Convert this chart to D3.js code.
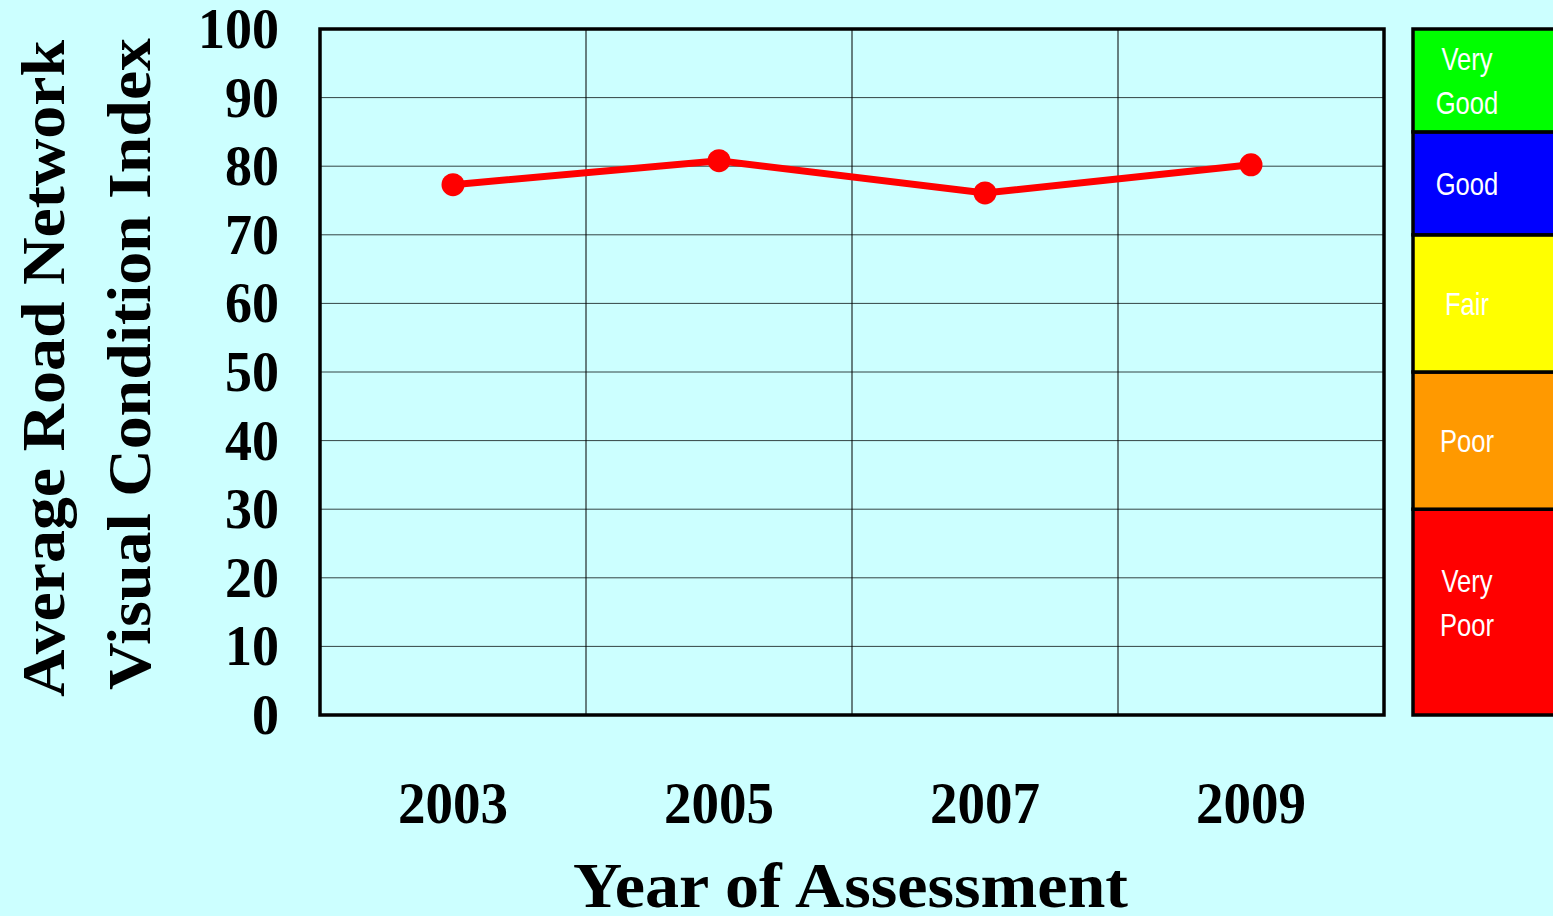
<!DOCTYPE html>
<html>
<head>
<meta charset="utf-8">
<script src="https://cdn.jsdelivr.net/npm/d3@7"></script>
<style>
  body { margin: 0; background: #ccffff; }
  svg { display: block; }
</style>
</head>
<body>
<div id="chart"></div>
<script>
const years = ["2003", "2005", "2007", "2009"];
const vci = [77.3, 80.8, 76.1, 80.2];
const yTicks = [0, 10, 20, 30, 40, 50, 60, 70, 80, 90, 100];
const classNames = [["Very", "Poor"], ["Poor"], ["Fair"], ["Good"], ["Very", "Good"]];
const classBounds = [0, 30, 50, 70, 85, 100];
const classColors = ["#ff0000", "#ff9900", "#ffff00", "#0000ff", "#00ff00"];

const width = 1553, height = 916;
const margin = { left: 320, right: 169, top: 29, bottom: 201 };
const plotW = width - margin.left - margin.right;
const plotH = height - margin.top - margin.bottom;

const svg = d3.select("#chart").append("svg")
    .attr("width", width)
    .attr("height", height);

svg.append("rect")
    .attr("width", width)
    .attr("height", height)
    .attr("fill", "#ccffff");

const x = d3.scaleBand().domain(years).range([margin.left, margin.left + plotW]);
const y = d3.scaleLinear().domain([0, 100]).range([margin.top + plotH, margin.top]);

const serif = "'Liberation Serif', 'Times New Roman', serif";

// horizontal grid
svg.append("g")
    .selectAll("line")
    .data(yTicks.slice(1, -1))
    .enter()
    .append("line")
    .attr("x1", margin.left)
    .attr("x2", margin.left + plotW)
    .attr("y1", d => y(d))
    .attr("y2", d => y(d))
    .attr("stroke", "#334444")
    .attr("stroke-width", 1);

// vertical grid at band edges
svg.append("g")
    .selectAll("line")
    .data(years.slice(1))
    .enter()
    .append("line")
    .attr("x1", d => x(d))
    .attr("x2", d => x(d))
    .attr("y1", margin.top)
    .attr("y2", margin.top + plotH)
    .attr("stroke", "#000")
    .attr("stroke-width", 1);

// plot border
svg.append("rect")
    .attr("x", margin.left)
    .attr("y", margin.top)
    .attr("width", plotW)
    .attr("height", plotH)
    .attr("fill", "none")
    .attr("stroke", "#000")
    .attr("stroke-width", 3.5);

// y tick labels
svg.append("g")
    .selectAll("text")
    .data(yTicks)
    .enter()
    .append("text")
    .attr("x", 279)
    .attr("y", d => y(d))
    .attr("dy", "0.34em")
    .attr("text-anchor", "end")
    .attr("font-family", serif)
    .attr("font-weight", "bold")
    .attr("font-size", 56)
    .attr("textLength", d => String(d).length * 27)
    .attr("lengthAdjust", "spacingAndGlyphs")
    .text(d => d);

// x tick labels
svg.append("g")
    .selectAll("text")
    .data(years)
    .enter()
    .append("text")
    .attr("x", d => x(d) + x.bandwidth() / 2 - 110 / 2)
    .attr("y", 823)
    .attr("font-family", serif)
    .attr("font-weight", "bold")
    .attr("font-size", 60)
    .attr("textLength", 110)
    .attr("lengthAdjust", "spacingAndGlyphs")
    .text(d => d);

// axis titles
svg.append("text")
    .attr("x", 573)
    .attr("y", 907)
    .attr("font-family", serif)
    .attr("font-weight", "bold")
    .attr("font-size", 64)
    .attr("textLength", 555)
    .attr("lengthAdjust", "spacingAndGlyphs")
    .text("Year of Assessment");

const yTitle = ["Average Road Network", "Visual Condition Index"];
const yTitleX = [64, 150];
const yTitleLen = [657, 652];
svg.append("g")
    .selectAll("text")
    .data(yTitle)
    .enter()
    .append("text")
    .attr("transform", (d, i) => `translate(${yTitleX[i]},${i === 0 ? 697 : 690}) rotate(-90)`)
    .attr("font-family", serif)
    .attr("font-weight", "bold")
    .attr("font-size", 62)
    .attr("textLength", (d, i) => yTitleLen[i])
    .attr("lengthAdjust", "spacingAndGlyphs")
    .text(d => d);

// line + markers
const pts = years.map((yr, i) => ({ year: yr, v: vci[i] }));
const line = d3.line()
    .x(d => x(d.year) + x.bandwidth() / 2)
    .y(d => y(d.v));

svg.append("path")
    .datum(pts)
    .attr("d", line)
    .attr("fill", "none")
    .attr("stroke", "#ff0000")
    .attr("stroke-width", 7);

svg.append("g")
    .selectAll("circle")
    .data(pts)
    .enter()
    .append("circle")
    .attr("cx", d => x(d.year) + x.bandwidth() / 2)
    .attr("cy", d => y(d.v))
    .attr("r", 11.5)
    .attr("fill", "#ff0000");

// condition class legend, aligned with y scale
const legX = 1413, legW = 150;
const bands = classColors.map((c, i) => ({
    color: c, lo: classBounds[i], hi: classBounds[i + 1], names: classNames[i]
}));

const leg = svg.append("g");
leg.selectAll("rect")
    .data(bands)
    .enter()
    .append("rect")
    .attr("x", legX)
    .attr("y", d => y(d.hi))
    .attr("width", legW)
    .attr("height", d => y(d.lo) - y(d.hi))
    .attr("fill", d => d.color)
    .attr("stroke", "#000")
    .attr("stroke-width", 3.5);

// narrow sans: squeeze horizontally
leg.selectAll("text")
    .data(bands)
    .enter()
    .append("text")
    .attr("transform", `translate(${legX + 54},0) scale(0.8,1)`)
    .attr("font-family", "'Liberation Sans', Arial, sans-serif")
    .attr("font-size", 32)
    .attr("fill", "#fff")
    .attr("text-anchor", "middle")
    .each(function (d) {
        const mid = (y(d.lo) + y(d.hi)) / 2 - (d.lo === 0 ? 10 : 0);
        const n = d.names.length;
        d3.select(this).selectAll("tspan")
            .data(d.names)
            .enter()
            .append("tspan")
            .attr("x", 0)
            .attr("y", (t, j) => mid + (j - (n - 1) / 2) * 44)
            .attr("dy", "0.36em")
            .text(t => t);
    });
</script>
</body>
</html>
